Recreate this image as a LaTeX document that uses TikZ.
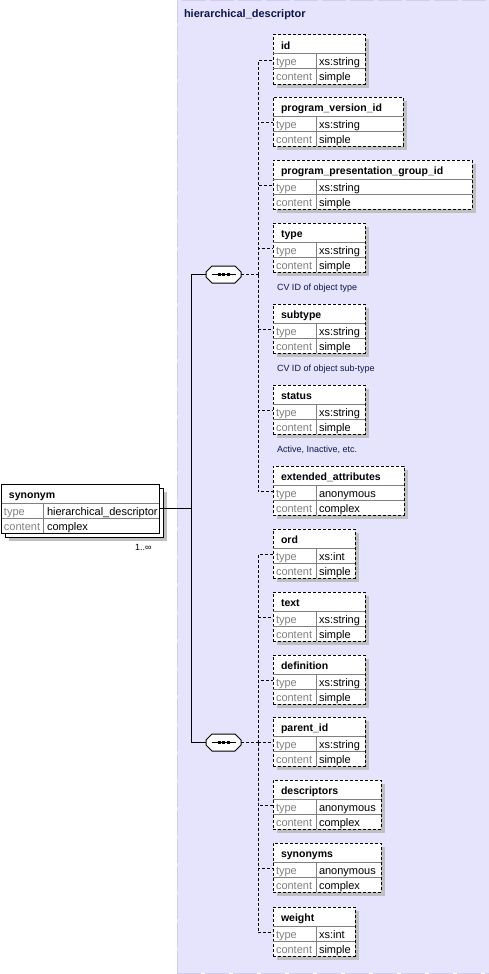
\documentclass[tikz,border=0pt]{standalone}
\usepackage{fontspec}
\setmainfont{Liberation Sans}
\usepackage{tikz}
\usetikzlibrary{shadows, calc}
\usepackage{xcolor}
\definecolor{hdback}{RGB}{230,227,252}
\definecolor{hdedge}{RGB}{208,204,236}
\definecolor{shadowgray}{RGB}{192,192,192}
\definecolor{labelgray}{RGB}{128,128,128}
\definecolor{hdnavy}{RGB}{12,22,72}

% one child element: name, top, right edge, title, type, content
\newcommand{\xsdelem}[6]{%
  \node[elembox, minimum width={(#3-273)*1pt}, anchor=north west] (#1) at (273,#2) {};
  \draw[rowline] ([yshift=-19pt]#1.north west) -- ([yshift=-19pt]#1.north east);
  \draw[rowline] ([yshift=-34pt]#1.north west) -- ([yshift=-34pt]#1.north east);
  \draw[rowline] ([shift={(43pt,-19pt)}]#1.north west) -- ([xshift=43pt]#1.south west);
  \node[elemtitle] (#1-name) at (281,#2+14) {#4};
  \node[rowlabel] (#1-tl) at (276,#2+31) {type};
  \node[rowvalue] (#1-tv) at (319,#2+31) {#5};
  \node[rowlabel] (#1-cl) at (276,#2+46) {content};
  \node[rowvalue] (#1-cv) at (319,#2+46) {#6};
}

% octagon outline round a sequence node
\newcommand{\seqpath}[1]{([xshift=6pt]#1.north west) -- ([xshift=-6pt]#1.north east)
  -- ([yshift=-6pt]#1.north east) -- ([yshift=6pt]#1.south east) -- ([xshift=-6pt]#1.south east)
  -- ([xshift=6pt]#1.south west) -- ([yshift=6pt]#1.south west) -- ([yshift=-6pt]#1.north west) -- cycle}

\begin{document}
\begin{tikzpicture}[
    x=1pt, y=-1pt,
    every node/.style={inner sep=0pt, outer sep=0pt},
    hdframe/.style={rectangle, fill=hdback, draw=hdedge, dash pattern=on 24pt off 4pt},
    elembox/.style={rectangle, draw, dash pattern=on 3pt off 2pt, fill=white, line width=1pt, minimum height=49pt,
        drop shadow={shadow xshift=4pt, shadow yshift=-4pt, fill=shadowgray, opacity=1}},
    synbox/.style={rectangle, draw, fill=white, line width=1pt, minimum width=158pt, minimum height=49pt},
    rowline/.style={labelgray, line width=1pt},
    elemtitle/.style={anchor=base west, font=\fontsize{10.5}{12}\selectfont\bfseries},
    rowlabel/.style={anchor=base west, text=labelgray, font=\fontsize{11}{13}\selectfont},
    rowvalue/.style={anchor=base west, font=\fontsize{11}{13}\selectfont},
    anno/.style={anchor=base west, text=hdnavy, font=\fontsize{9}{11}\selectfont},
    seqbox/.style={rectangle, minimum width=35pt, minimum height=17pt},
    solidconn/.style={line width=1pt},
    dashconn/.style={line width=1pt, dash pattern=on 3pt off 2pt}
]
\useasboundingbox (0,0) rectangle (489,974);

% complex type frame
\node[hdframe, minimum width=312pt, minimum height=973pt, anchor=north west] (hd) at (177,0) {};
\node[anchor=base west, text=hdnavy, font=\fontsize{11}{13}\selectfont\bfseries] (hd-name) at (184,18) {hierarchical\_descriptor};

% synonym element (unbounded, so two stacked boxes)
\node[synbox, anchor=north west, drop shadow={shadow xshift=4pt, shadow yshift=-4pt, fill=shadowgray, opacity=1}]
   (synonym-back) at (5,488) {};
\node[synbox, anchor=north west] (synonym) at (1,484) {};
\draw[rowline] ([yshift=-19pt]synonym.north west) -- ([yshift=-19pt]synonym.north east);
\draw[rowline] ([yshift=-34pt]synonym.north west) -- ([yshift=-34pt]synonym.north east);
\draw[rowline] ([shift={(42pt,-19pt)}]synonym.north west) -- ([xshift=42pt]synonym.south west);
\draw[line width=1pt] (synonym.north west) rectangle (synonym.south east);
\node[elemtitle] (synonym-name) at (9,498) {synonym};
\node[rowlabel] (synonym-tl) at (4,515) {type};
\node[rowvalue] (synonym-tv) at (47,515) {hierarchical\_descriptor};
\node[rowlabel] (synonym-cl) at (4,530) {content};
\node[rowvalue] (synonym-cv) at (47,530) {complex};
\node[anchor=base west, font=\fontsize{9}{11}\selectfont] (synonym-occ) at (135,550) {1..∞};

% the two sequences
\node[seqbox] (seq1) at (223.5,274.5) {};
\node[seqbox] (seq2) at (223.5,742.5) {};
\foreach \s in {seq1, seq2} {
  \fill[shadowgray, shift={(3,3)}] \seqpath{\s};
  \draw[line width=1pt, fill=white] \seqpath{\s};
  \draw[line width=1pt] ([xshift=-12pt]\s.center) -- ([xshift=12pt]\s.center);
  \foreach \dx in {-4.5, 0, 4.5}
    \fill ([xshift=\dx pt]\s.center) +(-1.5,-1.5) rectangle +(1.5,1.5);
}

\coordinate (split) at (191,508);
\draw[solidconn] ([yshift=-24pt]synonym.north east) -- (split);
\draw[solidconn] (seq1.west) -| (split);
\draw[solidconn] (seq2.west) -| (split);

% first sequence children
\xsdelem{id}{35}{365}{id}{xs:string}{simple}
\xsdelem{progver}{97}{403}{program\_version\_id}{xs:string}{simple}
\xsdelem{progpres}{160}{472}{program\_presentation\_group\_id}{xs:string}{simple}
\xsdelem{type}{223}{365}{type}{xs:string}{simple}
\xsdelem{subtype}{304}{365}{subtype}{xs:string}{simple}
\xsdelem{status}{385}{365}{status}{xs:string}{simple}
\xsdelem{extattr}{466}{404}{extended\_attributes}{anonymous}{complex}

\node[anno] (type-doc) at (277,290) {CV ID of object type};
\node[anno] (subtype-doc) at (277,371) {CV ID of object sub-type};
\node[anno] (status-doc) at (277,452) {Active, Inactive, etc.};

\coordinate (bus1) at (258,274.5);
\draw[dashconn] (seq1.east) -- (bus1);
\foreach \c in {id, progver, progpres, type, subtype, status, extattr}
  \draw[dashconn] (bus1) |- ([yshift=-25.5pt]\c.north west);

% second sequence children
\xsdelem{ord}{529}{355}{ord}{xs:int}{simple}
\xsdelem{text}{592}{365}{text}{xs:string}{simple}
\xsdelem{definition}{655}{365}{definition}{xs:string}{simple}
\xsdelem{parentid}{717}{365}{parent\_id}{xs:string}{simple}
\xsdelem{descriptors}{780}{381}{descriptors}{anonymous}{complex}
\xsdelem{synonyms}{843}{381}{synonyms}{anonymous}{complex}
\xsdelem{weight}{907}{355}{weight}{xs:int}{simple}

\coordinate (bus2) at (258,742.5);
\draw[dashconn] (seq2.east) -- (bus2);
\foreach \c in {ord, text, definition, parentid, descriptors, synonyms, weight}
  \draw[dashconn] (bus2) |- ([yshift=-25.5pt]\c.north west);
\end{tikzpicture}
\end{document}
